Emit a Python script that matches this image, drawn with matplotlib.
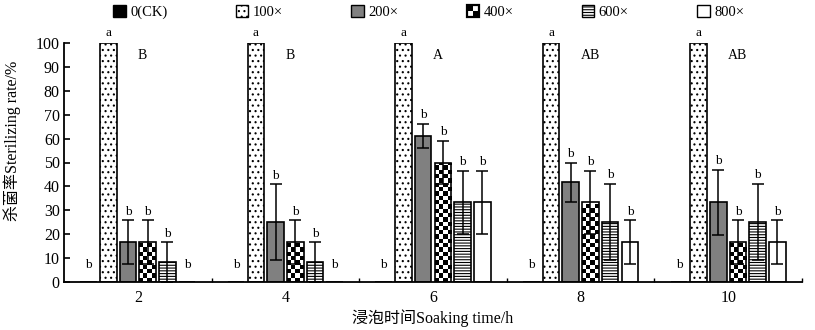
import numpy as np
import matplotlib
matplotlib.use("Agg")
import matplotlib.pyplot as plt
from matplotlib.patches import Patch, Rectangle
from matplotlib.legend_handler import HandlerBase

plt.rcParams['font.family'] = ['Liberation Serif', 'Noto Sans CJK SC']
plt.rcParams['hatch.color'] = 'black'
plt.rcParams['hatch.linewidth'] = 0.8

# ---- data ----
categories = ['2', '4', '6', '8', '10']
series_names = ['0(CK)', '100×', '200×', '400×', '600×', '800×']

ck_vals = [0, 0, 0, 0, 0]
ck_err = [0, 0, 0, 0, 0]
c100_vals = [100, 100, 100, 100, 100]
c100_err = [0, 0, 0, 0, 0]
c200_vals = [16.7, 25.0, 61.1, 41.7, 33.3]
c200_err = [9.1, 15.9, 5.0, 8.3, 13.6]
c400_vals = [16.7, 16.7, 50.0, 33.3, 16.7]
c400_err = [9.1, 9.1, 9.0, 13.3, 9.1]
c600_vals = [8.3, 8.3, 33.3, 25.0, 25.0]
c600_err = [8.3, 8.3, 13.3, 16.0, 16.0]
c800_vals = [0, 0, 33.3, 16.7, 16.7]
c800_err = [0, 0, 13.3, 9.1, 9.1]

ck_sig = ['b', 'b', 'b', 'b', 'b']
c100_sig = ['a', 'a', 'a', 'a', 'a']
c200_sig = ['b', 'b', 'b', 'b', 'b']
c400_sig = ['b', 'b', 'b', 'b', 'b']
c600_sig = ['b', 'b', 'b', 'b', 'b']
c800_sig = ['b', 'b', 'b', 'b', 'b']
group_sig = ['B', 'B', 'A', 'AB', 'AB']

yticks = [0, 10, 20, 30, 40, 50, 60, 70, 80, 90, 100]

values = [ck_vals, c100_vals, c200_vals, c400_vals, c600_vals, c800_vals]
errors = [ck_err, c100_err, c200_err, c400_err, c600_err, c800_err]
sigs = [ck_sig, c100_sig, c200_sig, c400_sig, c600_sig, c800_sig]

styles = [
    dict(facecolor='black', hatch=None),
    dict(facecolor='white', hatch='...'),
    dict(facecolor='#808080', hatch=None),
    dict(facecolor='none', hatch=None),      # checkerboard drawn below
    dict(facecolor='white', hatch='------'),
    dict(facecolor='white', hatch=None),
]

fig = plt.figure(figsize=(8.15, 3.3), dpi=100)
W, H = 815, 330
ax = fig.add_axes([64 / W, 1 - 282 / H, 738 / W, 239 / H])

pitch = 0.1335
width = 0.112
xc = np.arange(len(categories))
n = len(series_names)

for j in range(n):
    xs = xc + (j - (n - 1) / 2) * pitch
    vals = np.array(values[j], dtype=float)
    errs = np.array(errors[j], dtype=float)
    st = styles[j]
    bars = ax.bar(xs, vals, width=width, facecolor=st['facecolor'],
                  edgecolor='black', linewidth=1.2, hatch=st['hatch'], zorder=2)
    if j == 3:
        # checkerboard fill clipped to each bar
        for b in bars:
            x0, y0 = b.get_x(), b.get_y()
            bw, bh = b.get_width(), b.get_height()
            if bh <= 0:
                continue
            ncol = 4
            cell_h = 1.8
            nrow = max(1, int(round(bh / cell_h)))
            rr, cc = np.indices((nrow, ncol))
            chk = (rr + cc) % 2
            im = ax.imshow(chk, cmap='gray', vmin=0, vmax=1, aspect='auto',
                           interpolation='nearest', origin='lower',
                           extent=(x0, x0 + bw, y0, y0 + nrow * cell_h),
                           zorder=1.5)
            im.set_clip_path(b)
    mask = errs > 0
    if mask.any():
        ax.errorbar(xs[mask], vals[mask], yerr=errs[mask], fmt='none',
                    ecolor='black', elinewidth=1.1, capsize=4.5, capthick=1.1,
                    zorder=3)
    for k in range(len(categories)):
        if vals[k] <= 0:
            ty = 5.7
        elif errs[k] > 0:
            ty = vals[k] + errs[k] + 2.4
        else:
            ty = vals[k] + 3.0
        ax.text(xs[k], ty, sigs[j][k], ha='center', va='baseline',
                fontsize=9.5, zorder=4, clip_on=False)

for k in range(len(categories)):
    ax.text(xc[k], 93.1, group_sig[k], ha='left', va='baseline', fontsize=10)

ax.set_xlim(-0.5, len(categories) - 0.5)
ax.set_ylim(0, 100)
ax.set_yticks(yticks)
ax.set_yticklabels([str(t) for t in yticks])
ax.set_xticks(xc)
ax.set_xticklabels(categories)
ax.set_xticks(np.arange(len(categories)) + 0.5, minor=True)

ax.spines['top'].set_visible(False)
ax.spines['right'].set_visible(False)
ax.spines['left'].set_linewidth(1.3)
ax.spines['bottom'].set_linewidth(1.3)

ax.tick_params(axis='y', direction='in', length=4, width=1.2, labelsize=11.5, pad=3)
ax.tick_params(axis='x', which='major', length=0, labelsize=11.5, pad=6)
ax.tick_params(axis='x', which='minor', direction='in', length=3, width=1.0)

ax.set_xlabel('浸泡时间Soaking time/h', fontsize=11.5)
ax.xaxis.set_label_coords(0.5, -0.115)
ax.set_ylabel('杀菌率Sterilizing rate/%', fontsize=11.5)
ax.yaxis.set_label_coords(-0.058, 0.59)


class HandlerChecker(HandlerBase):
    def create_artists(self, legend, orig_handle, xdescent, ydescent,
                       width, height, fontsize, trans):
        arts = []
        w2, h2 = width / 2, height / 2
        for r in range(2):
            for c in range(2):
                fc = 'white' if (r + c) % 2 == 0 else 'black'
                arts.append(Rectangle((-xdescent + c * w2, -ydescent + r * h2),
                                      w2, h2, facecolor=fc, edgecolor='none',
                                      transform=trans))
        arts.append(Rectangle((-xdescent, -ydescent), width, height,
                              facecolor='none', edgecolor='black', lw=1.6,
                              transform=trans))
        return arts


handles = []
for j in range(n):
    st = styles[j]
    fc = st['facecolor'] if st['facecolor'] != 'none' else 'white'
    handles.append(Patch(facecolor=fc, edgecolor='black', hatch=st['hatch'],
                         linewidth=1.0))

fig.legend(handles, series_names, loc='center', bbox_to_anchor=(0.526, 0.963),
           ncol=6, frameon=False, fontsize=10.5, handlelength=0.85,
           handleheight=0.85, handletextpad=0.3, columnspacing=4.7,
           handler_map={handles[3]: HandlerChecker()})

fig.savefig('out.png', dpi=100)
